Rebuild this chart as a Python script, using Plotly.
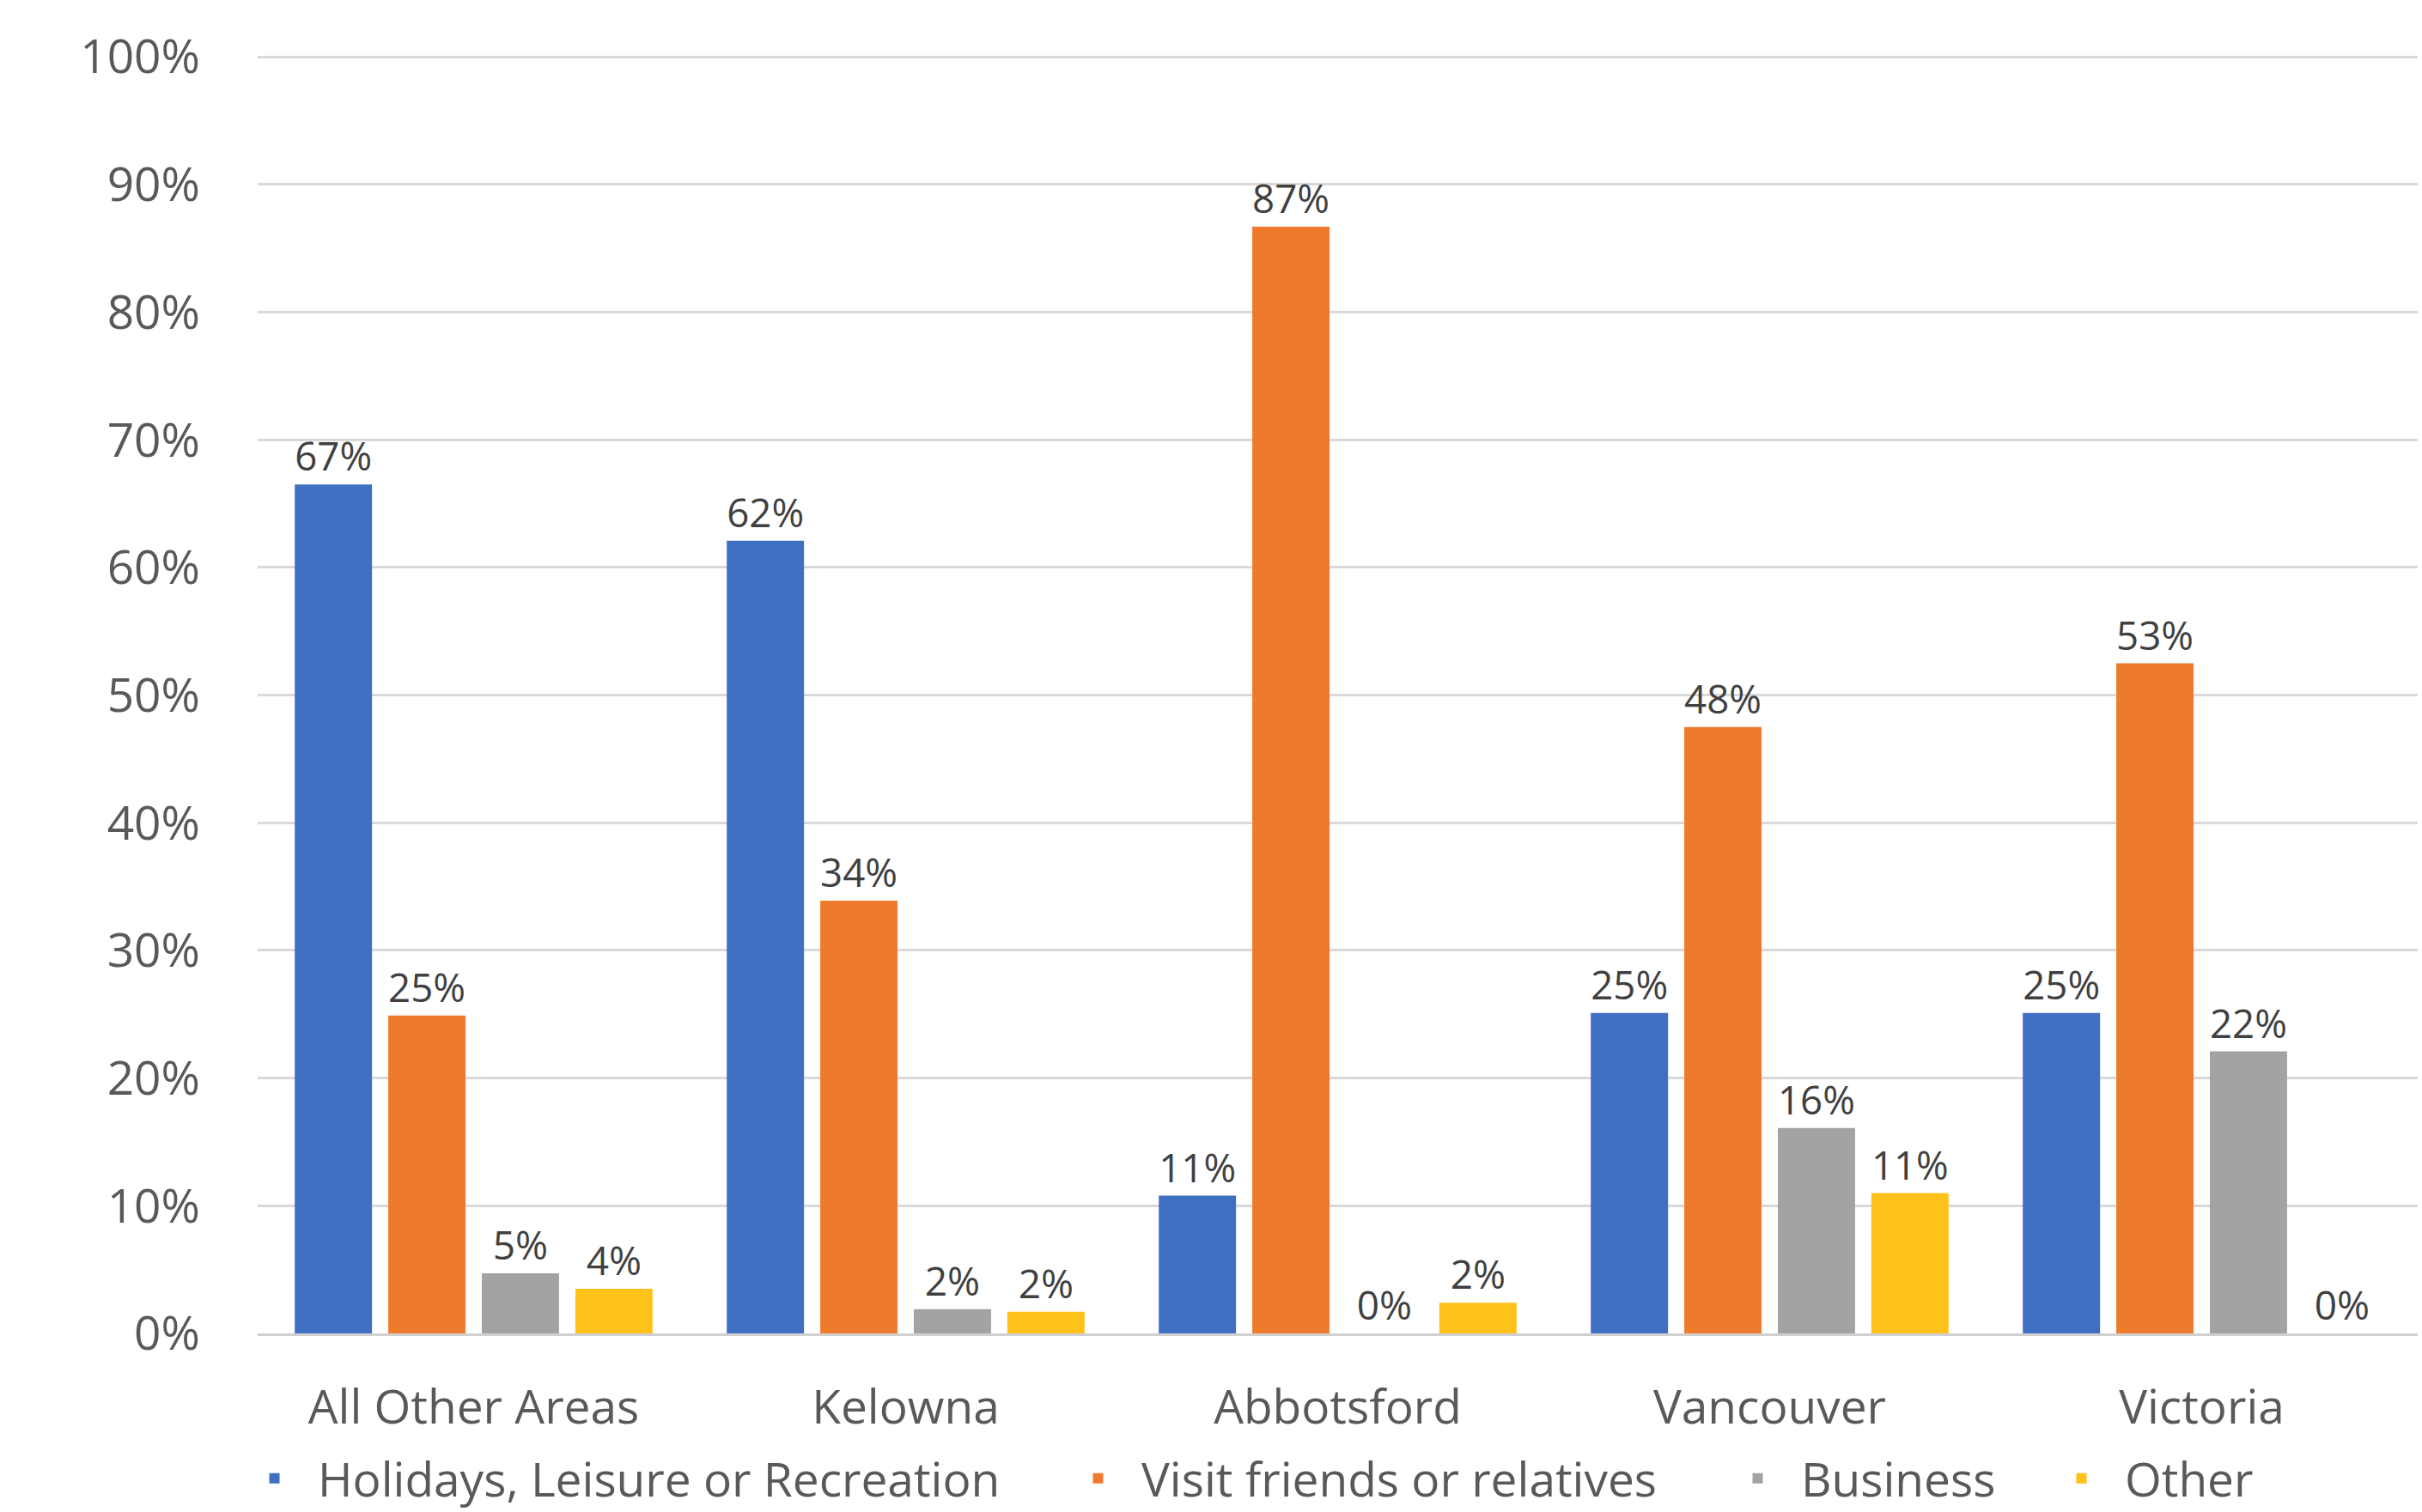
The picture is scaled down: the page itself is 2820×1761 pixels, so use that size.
import plotly.graph_objects as go

categories = ["All Other Areas", "Kelowna", "Abbotsford", "Vancouver", "Victoria"]
series_names = ["Holidays, Leisure or Recreation", "Visit friends or relatives", "Business", "Other"]
holidays = [66.5, 62.1, 10.8, 25.1, 25.1]
visit = [24.9, 33.9, 86.7, 47.5, 52.5]
business = [4.7, 1.9, 0.0, 16.1, 22.1]
other = [3.5, 1.7, 2.4, 11.0, 0.0]
colors = ["#4070C4", "#EE7A2E", "#A3A3A3", "#FFC21A"]
y_ticks = [0, 10, 20, 30, 40, 50, 60, 70, 80, 90, 100]
legend_ids = ["legend", "legend2", "legend3", "legend4"]
legend_x_px = [269, 1228, 1996, 2373]

fig = go.Figure()
for name, vals, col, lg in zip(series_names, [holidays, visit, business, other], colors, legend_ids):
    fig.add_trace(go.Bar(
        x=categories, y=vals, name=name, legend=lg,
        marker=dict(color=col, line=dict(width=0)),
        texttemplate="%{y:.0f}%", textposition="outside",
        textfont=dict(family="Open Sans", size=46, color="#404040"),
        cliponaxis=False,
    ))

legend_common = dict(orientation="h", xref="container", yref="container",
                     xanchor="left", yanchor="middle", y=(1761 - 1722) / 1761,
                     itemwidth=91,
                     font=dict(size=55, color="#595959"), bgcolor="rgba(0,0,0,0)")
layout_legends = {}
for lg, px in zip(legend_ids, legend_x_px):
    layout_legends[lg] = dict(legend_common, x=px / 2820)

fig.update_layout(
    width=2820, height=1761,
    margin=dict(l=300, r=5, t=64, b=208, autoexpand=False),
    paper_bgcolor="white", plot_bgcolor="white",
    barmode="group", bargap=0.134, bargroupgap=0.174,
    font=dict(family="Open Sans", color="#595959"),
    showlegend=True,
    **layout_legends,
)
fig.update_yaxes(
    range=[0, 100.15], tickvals=y_ticks, ticktext=[f"{v}%" for v in y_ticks],
    showgrid=True, gridcolor="#D9D9D9", gridwidth=3,
    zeroline=False, showline=False,
    tickfont=dict(size=55, color="#595959"), ticks="outside", ticklen=55, tickcolor="rgba(0,0,0,0)",
)
fig.update_xaxes(
    showline=True, linecolor="#D0D0D0", linewidth=3,
    tickfont=dict(size=55, color="#595959"), ticks="outside", ticklen=36, tickcolor="rgba(0,0,0,0)",
)

fig.write_html("out.html")
